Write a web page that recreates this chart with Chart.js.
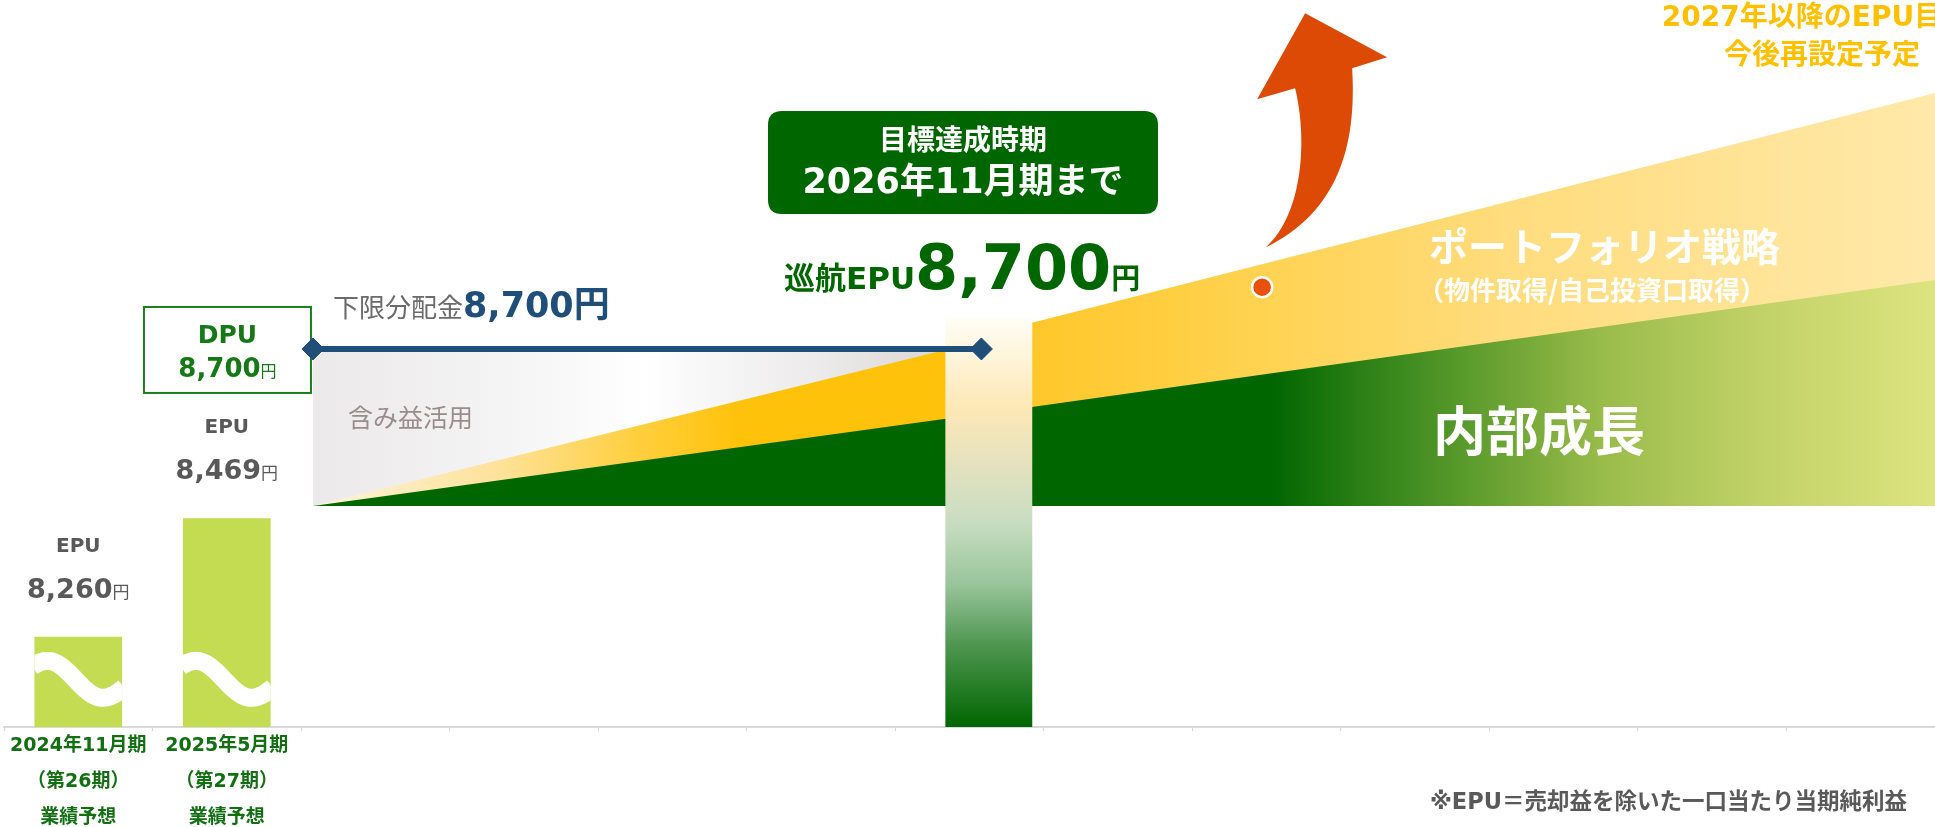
<!DOCTYPE html>
<html><head><meta charset="utf-8">
<script src="https://cdn.jsdelivr.net/npm/chart.js@4.4.1/dist/chart.umd.min.js"></script>
<style>html,body{margin:0;padding:0;background:#fff;overflow:hidden}#wrap{width:1935px;height:827px;position:relative}</style>
</head><body><div id="wrap"><canvas id="c" width="1935" height="827"></canvas></div>
<script>
// ---------------- data ----------------
const categories = [['2024年11月期','（第26期）','業績予想'], ['2025年5月期','（第27期）','業績予想'], '', '', '', '', '', '', '', '', '', '', ''];
const barPositions = [0.5, 1.5];          // centres of the first two categories (linear x)
const barLevels = [12.4, 28.7];           // schematic bar heights (broken axis)
const epuValues = [8260, 8469];           // EPU (円)
const targetPosition = [6.63];
const targetLevel = [56.3];
const targetEPU = 8700;
const dpuValue = 8700;
const floorDistribution = 8700;
const wedgeX = [2.08, 6.34, 6.92, 13];
const wedgeBase = 30.4;
const internalGrowth = [30.4, 42.4, 44.0, 61.5];
const portfolioStrategy = [30.4, 51.9, 55.6, 87.2];
const gainUseX = [2.08, 6.34];
const gainUseLevel = [52.0, 52.0];
const floorLineX = [2.08, 6.58];
const floorLineLevel = [52.0, 52.0];
const markerX = [8.47];
const markerLevel = [60.5];
const breakLevel = 6.5;

// ---------------- helpers ----------------
const FF = '"DejaVu Sans", "Noto Sans CJK JP", sans-serif';
const JF = '"Noto Sans CJK JP", sans-serif';
const fmt = v => v.toLocaleString('en-US');
const pts = (xs, ys) => xs.map((x, i) => ({x, y: ys[i]}));

function hGrad(chart, x0, x1, stops) {
  const xs = chart.scales.xl;
  if (!xs) return stops[0][1];
  const a = xs.getPixelForValue(x0), b = xs.getPixelForValue(x1);
  if (!isFinite(a) || !isFinite(b) || a === b) return stops[0][1];
  const g = chart.ctx.createLinearGradient(a, 0, b, 0);
  stops.forEach(([o, c]) => g.addColorStop(o, c));
  return g;
}
function vGrad(chart, y0, y1, stops) {
  const ys = chart.scales.y;
  if (!ys) return stops[stops.length - 1][1];
  const a = ys.getPixelForValue(y0), b = ys.getPixelForValue(y1);
  if (!isFinite(a) || !isFinite(b) || a === b) return stops[stops.length - 1][1];
  const g = chart.ctx.createLinearGradient(0, a, 0, b);
  stops.forEach(([o, c]) => g.addColorStop(o, c));
  return g;
}
function runs(ctx, parts, x, y, align, baseline) {
  ctx.textBaseline = baseline || 'alphabetic';
  ctx.textAlign = 'left';
  let total = 0;
  const ws = parts.map(p => { ctx.font = p.font; const w = ctx.measureText(p.text).width; total += w; return w; });
  let cx = align === 'center' ? x - total / 2 : (align === 'right' ? x - total : x);
  parts.forEach((p, i) => { ctx.font = p.font; ctx.fillStyle = p.color; ctx.fillText(p.text, cx, y); cx += ws[i]; });
}
function rr(ctx, x, y, w, h, r) {
  ctx.beginPath();
  ctx.moveTo(x + r, y); ctx.lineTo(x + w - r, y); ctx.quadraticCurveTo(x + w, y, x + w, y + r);
  ctx.lineTo(x + w, y + h - r); ctx.quadraticCurveTo(x + w, y + h, x + w - r, y + h);
  ctx.lineTo(x + r, y + h); ctx.quadraticCurveTo(x, y + h, x, y + h - r);
  ctx.lineTo(x, y + r); ctx.quadraticCurveTo(x, y, x + r, y); ctx.closePath();
}

// ---------------- decoration plugin ----------------
const deco = {
  id: 'deco',
  beforeDatasetsDraw(chart) {
    const ctx = chart.ctx, xs = chart.scales.xl, ys = chart.scales.y;
    const lx = xs.getPixelForValue(floorLineX[0]), ly = ys.getPixelForValue(floorLineLevel[0]);
    const bw = 167, bh = 86, bx = lx - 2 - bw, by = ly + 1 - bh / 2;
    ctx.save();
    ctx.fillStyle = '#ffffff'; ctx.fillRect(bx, by, bw, bh);
    ctx.strokeStyle = '#1b7d1b'; ctx.lineWidth = 2; ctx.strokeRect(bx, by, bw, bh);
    const cx = bx + bw / 2;
    runs(ctx, [{text: 'DPU', font: 'bold 25px ' + FF, color: '#157a15'}], cx, by + 36, 'center');
    runs(ctx, [{text: fmt(dpuValue), font: 'bold 26px ' + FF, color: '#157a15'},
               {text: '円', font: '16px ' + JF, color: '#157a15'}], cx, by + 70, 'center');
    ctx.restore();
  },
  afterDatasetsDraw(chart) {
    const ctx = chart.ctx, xs = chart.scales.xl, ys = chart.scales.y;
    const meta = chart.getDatasetMeta(3);
    const yc = ys.getPixelForValue(breakLevel);
    ctx.save();
    meta.data.forEach((el, idx) => {
      const p = el.getProps(['x', 'y', 'base', 'width'], true);
      const l = p.x - p.width / 2, w = p.width;
      ctx.save();
      ctx.beginPath(); ctx.rect(l, p.y, w, p.base - p.y); ctx.clip();
      ctx.beginPath();
      for (let i = 0; i <= 40; i++) {
        const t = i / 40;
        const yy = yc - 15 * Math.sin(2 * Math.PI * (0.08 + t * 0.9)) + 12 * (t - 0.5);
        if (i === 0) ctx.moveTo(l - 2, yy); else ctx.lineTo(l - 2 + t * (w + 4), yy);
      }
      ctx.strokeStyle = '#ffffff'; ctx.lineWidth = 18; ctx.stroke();
      ctx.restore();
      const v = epuValues[idx];
      runs(ctx, [{text: 'EPU', font: 'bold 20px ' + FF, color: '#595959'}], p.x, p.y - 85, 'center');
      runs(ctx, [{text: fmt(v), font: 'bold 27px ' + FF, color: '#595959'},
                 {text: '円', font: '17px ' + JF, color: '#595959'}], p.x, p.y - 39, 'center');
    });
    const mx = xs.getPixelForValue(markerX[0]), my = ys.getPixelForValue(markerLevel[0]);
    const P = (dx, dy) => [mx + dx, my + dy];
    ctx.beginPath();
    ctx.moveTo(...P(4, -40));
    ctx.bezierCurveTo(...P(42, -75), ...P(45, -150), ...P(33, -199));
    ctx.lineTo(...P(-5, -188));
    ctx.lineTo(...P(43, -274));
    ctx.lineTo(...P(125, -230));
    ctx.lineTo(...P(90, -219));
    ctx.bezierCurveTo(...P(95, -140), ...P(75, -75), ...P(4, -40));
    ctx.closePath();
    ctx.fillStyle = '#dc4a05'; ctx.fill();
    ctx.restore();
  },
  afterDraw(chart) {
    const ctx = chart.ctx;
    ctx.save();
    runs(ctx, [{text: '下限分配金', font: '26px ' + JF, color: '#6b6b6b'},
               {text: fmt(floorDistribution), font: 'bold 35px ' + FF, color: '#1f4e79'},
               {text: '円', font: 'bold 36px ' + JF, color: '#1f4e79'}], 333, 317, 'left');
    runs(ctx, [{text: '含み益活用', font: '25px ' + JF, color: '#9a8c8c'}], 348, 427, 'left');
    rr(ctx, 768, 111, 390, 103, 14); ctx.fillStyle = '#006600'; ctx.fill();
    runs(ctx, [{text: '目標達成時期', font: 'bold 28px ' + FF, color: '#ffffff'}], 963, 143, 'center', 'middle');
    runs(ctx, [{text: '2026年11月期まで', font: 'bold 35px ' + FF, color: '#ffffff'}], 963, 184, 'center', 'middle');
    runs(ctx, [{text: '巡航EPU', font: 'bold 31px ' + FF, color: '#006600'},
               {text: fmt(targetEPU), font: 'bold 62px ' + FF, color: '#006600'},
               {text: '円', font: 'bold 29px ' + JF, color: '#006600'}], 784, 289, 'left');
    runs(ctx, [{text: 'ポートフォリオ戦略', font: 'bold 39px ' + JF, color: '#ffffff'}], 1429, 246, 'left', 'middle');
    runs(ctx, [{text: '（物件取得/自己投資口取得）', font: 'bold 26px ' + JF, color: '#ffffff'}], 1418, 290, 'left', 'middle');
    runs(ctx, [{text: '内部成長', font: 'bold 53px ' + JF, color: '#ffffff'}], 1433, 431, 'left', 'middle');
    runs(ctx, [{text: '2027年以降のEPU目標', font: 'bold 28px ' + FF, color: '#ffc000'}], 1816, 19, 'center', 'middle');
    runs(ctx, [{text: '今後再設定予定', font: 'bold 28px ' + JF, color: '#ffc000'}], 1822, 53, 'center', 'middle');
    runs(ctx, [{text: '※EPU＝売却益を除いた一口当たり当期純利益', font: 'bold 22.5px ' + FF, color: '#595959'}], 1907, 803, 'right', 'middle');
    ctx.restore();
  }
};

// ---------------- chart ----------------
const ctx = document.getElementById('c').getContext('2d');
new Chart(ctx, {
  type: 'bar',
  data: {
    labels: categories,
    datasets: [
      {
        type: 'line', label: '下限分配金', xAxisID: 'xl', yAxisID: 'y',
        data: pts(floorLineX, floorLineLevel), borderColor: '#1f4e79', borderWidth: 6,
        pointStyle: 'rectRot', pointRadius: 11, pointBackgroundColor: '#1f4e79', pointBorderColor: '#1f4e79',
        pointBorderWidth: 1, fill: false, order: 0, clip: false
      },
      {
        type: 'line', label: 'marker', xAxisID: 'xl', yAxisID: 'y', showLine: false,
        data: pts(markerX, markerLevel), pointRadius: 10, pointBackgroundColor: '#e8500c',
        pointBorderColor: '#ffffff', pointBorderWidth: 2.5, order: 0
      },
      {
        type: 'bar', label: '巡航EPU', xAxisID: 'xl', yAxisID: 'y', grouped: false,
        data: pts(targetPosition, targetLevel), categoryPercentage: 1, barPercentage: 0.585,
        backgroundColor: c => vGrad(c.chart, targetLevel[0], 0, [[0, '#fffdf6'], [0.1, '#fff4d8'], [0.22, '#fde8b6'], [0.35, '#e6e2be'], [0.5, '#c8ddc1'], [0.65, '#99c59b'], [0.8, '#4e964f'], [1, '#006600']]),
        borderWidth: 0, order: 1
      },
      {
        type: 'bar', label: 'EPU', xAxisID: 'xl', yAxisID: 'y', grouped: false,
        data: pts(barPositions, barLevels), categoryPercentage: 1, barPercentage: 0.59,
        backgroundColor: '#c3dc51', borderWidth: 0, order: 1
      },
      {
        type: 'line', label: '内部成長', xAxisID: 'xl', yAxisID: 'y',
        data: pts(wedgeX, internalGrowth), borderColor: 'rgba(0,0,0,0)', borderWidth: 0, pointRadius: 0, tension: 0,
        fill: {value: wedgeBase},
        backgroundColor: c => hGrad(c.chart, wedgeX[0], wedgeX[3], [[0, '#006600'], [0.59, '#006600'], [0.67, '#3c8a1e'], [0.732, '#6aa333'], [0.793, '#98bb4a'], [0.886, '#bfd166'], [1, '#dde47f']]),
        order: 2
      },
      {
        type: 'line', label: 'ポートフォリオ戦略', xAxisID: 'xl', yAxisID: 'y',
        data: pts(wedgeX, portfolioStrategy), borderColor: 'rgba(0,0,0,0)', borderWidth: 0, pointRadius: 0, tension: 0,
        fill: {value: wedgeBase},
        backgroundColor: c => hGrad(c.chart, wedgeX[0], wedgeX[3], [[0, '#fff4dc'], [0.115, '#fee29a'], [0.2, '#ffcf3e'], [0.263, '#ffc20a'], [0.39, '#ffc20a'], [0.443, '#ffc72a'], [0.547, '#ffd046'], [0.732, '#ffdc7c'], [1, '#ffe9aa']]),
        order: 3
      },
      {
        type: 'line', label: '含み益活用', xAxisID: 'xl', yAxisID: 'y',
        data: pts(gainUseX, gainUseLevel), borderColor: 'rgba(0,0,0,0)', borderWidth: 0, pointRadius: 0, tension: 0,
        fill: {value: wedgeBase},
        backgroundColor: c => hGrad(c.chart, gainUseX[0], gainUseX[1], [[0, '#ebe9e9'], [0.3, '#f5f4f4'], [0.52, '#ffffff'], [0.8, '#eceaea'], [1, '#dbd6d6']]),
        order: 4
      }
    ]
  },
  options: {
    responsive: false,
    animation: false,
    events: [],
    layout: {autoPadding: false, padding: {left: 4, right: 0, top: 0, bottom: 0}},
    plugins: {legend: {display: false}, tooltip: {enabled: false}},
    scales: {
      x: {
        type: 'category', position: 'bottom', offset: true,
        grid: {offset: true, drawOnChartArea: false, drawTicks: true, tickLength: 4, color: '#d6d6d6', lineWidth: 1},
        border: {display: true, color: '#d9d9d9', width: 2},
        ticks: {autoSkip: false, maxRotation: 0, minRotation: 0, padding: -3, color: '#127012',
                font: {family: FF, size: 19, weight: 'bold', lineHeight: 1.9}},
        afterFit(s) { s.height = 100; s.paddingLeft = 0; s.paddingRight = 0; }
      },
      xl: {type: 'linear', position: 'bottom', min: 0, max: 13, offset: false, grid: {offset: false}, display: false, ticks: {stepSize: 1}},
      y: {type: 'linear', min: 0, max: 100, display: false}
    }
  },
  plugins: [deco]
});
</script>
</body></html>
